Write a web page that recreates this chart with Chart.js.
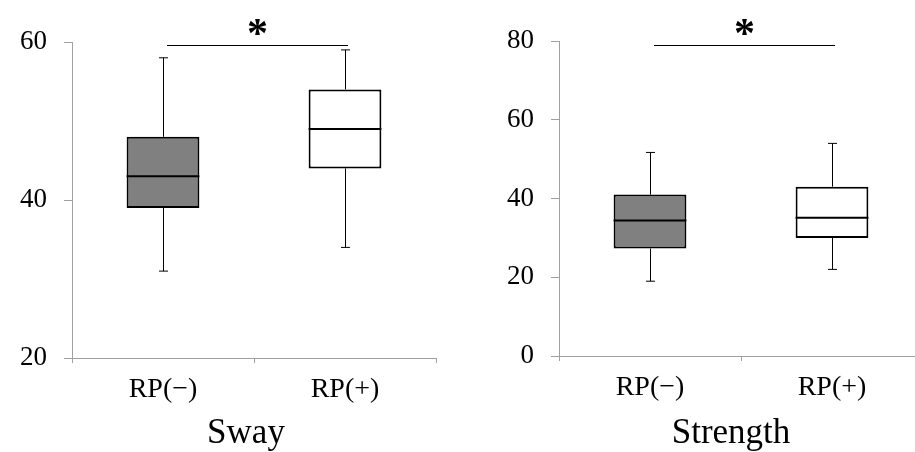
<!DOCTYPE html>
<html>
<head>
<meta charset="utf-8">
<script src="https://cdn.jsdelivr.net/npm/chart.js@4/dist/chart.umd.min.js"></script>
<style>
  html, body { margin: 0; padding: 0; background: #fff; overflow: hidden; }
  #wrap { position: relative; width: 915px; height: 452px; overflow: hidden; }
  #sway_chart { position: absolute; left: 0; top: 0; }
  #strength_chart { position: absolute; left: 460px; top: 0; }
</style>
</head>
<body>
<div id="wrap">
  <canvas id="sway_chart" width="460" height="452"></canvas>
  <canvas id="strength_chart" width="470" height="452"></canvas>
</div>
<script>
// groups on the x axis
var categories = ["RP(\u2212)", "RP(+)"];
var boxColors = ["#808080", "#ffffff"];

// Sway box plot values
var swayMin = [31, 34];
var swayQ1 = [39, 44];
var swayMedian = [43, 49];
var swayQ3 = [48, 54];
var swayMax = [58, 59];
var swaySig = 59.6;   // level of the * bracket

// Strength box plot values
var strengthMin = [19, 22];
var strengthQ1 = [27.3, 30];
var strengthMedian = [34.4, 35.1];
var strengthQ3 = [41, 43];
var strengthMax = [51.7, 54];
var strengthSig = 79;

var serif = "'Liberation Serif', 'Times New Roman', serif";
var axisGray = "#a0a0a0";

// whiskers, medians, significance bracket and axis name
var boxExtras = {
  id: "boxExtras",
  afterDatasetsDraw: function(chart) {
    var s = chart.options.plugins.boxExtras;
    var ctx = chart.ctx;
    var xs = chart.scales.x;
    var ys = chart.scales.y;
    var bars = chart.getDatasetMeta(0).data;
    ctx.save();
    ctx.strokeStyle = "#000";
    for (var i = 0; i < bars.length; i++) {
      var x = bars[i].x;
      var half = bars[i].width / 2;
      var yMin = ys.getPixelForValue(s.min[i]);
      var yQ1 = ys.getPixelForValue(s.q1[i]);
      var yQ3 = ys.getPixelForValue(s.q3[i]);
      var yMax = ys.getPixelForValue(s.max[i]);
      var yMed = ys.getPixelForValue(s.median[i]);
      ctx.lineWidth = 1;
      ctx.beginPath();
      ctx.moveTo(Math.round(x) + 0.5, yQ3); ctx.lineTo(Math.round(x) + 0.5, yMax);
      ctx.moveTo(Math.round(x) + 0.5, yQ1); ctx.lineTo(Math.round(x) + 0.5, yMin);
      ctx.moveTo(x - 4, yMax); ctx.lineTo(x + 5, yMax);
      ctx.moveTo(x - 4, yMin); ctx.lineTo(x + 5, yMin);
      ctx.stroke();
      ctx.lineWidth = 2;
      ctx.beginPath();
      ctx.moveTo(x - half, yMed); ctx.lineTo(x + half, yMed);
      ctx.stroke();
    }
    // significance bracket
    var ySig = Math.round(ys.getPixelForValue(s.sig)) + 0.5;
    var xa = xs.getPixelForValue(0) + 4;
    var xb = xs.getPixelForValue(1) + 3;
    ctx.lineWidth = 1;
    ctx.beginPath();
    ctx.moveTo(xa, ySig); ctx.lineTo(xb, ySig);
    ctx.stroke();
    ctx.fillStyle = "#000";
    ctx.textAlign = "center";
    ctx.textBaseline = "alphabetic";
    ctx.font = "bold 42px " + serif;
    ctx.fillText("*", (xa + xb) / 2, ySig + 1);
    // axis name under the group labels
    ctx.font = "35px " + serif;
    ctx.fillText(s.name, (xs.left + xs.right) / 2 + s.nameShift, chart.height - 9);
    ctx.restore();
  }
};

function makeBoxChart(id, name, mins, q1s, medians, q3s, maxs, sig, yMin, yMax, yWidth, pad, xHeight, nameShift) {
  var boxes = [];
  for (var i = 0; i < categories.length; i++) { boxes.push([q1s[i], q3s[i]]); }
  return new Chart(id, {
    type: "bar",
    data: {
      labels: categories,
      datasets: [{
        data: boxes,
        backgroundColor: boxColors,
        borderColor: "#000",
        borderWidth: 2,
        borderSkipped: false,
        barPercentage: 0.4,
        categoryPercentage: 1.0
      }]
    },
    options: {
      responsive: false,
      animation: false,
      layout: { padding: pad },
      plugins: {
        legend: { display: false },
        tooltip: { enabled: false },
        boxExtras: { name: name, min: mins, q1: q1s, median: medians, q3: q3s, max: maxs, sig: sig, nameShift: nameShift }
      },
      scales: {
        x: {
          afterFit: function(scale) { scale.height = xHeight; },
          border: { display: true, color: axisGray, width: 1 },
          grid: {
            drawOnChartArea: false,
            drawTicks: true,
            tickLength: 5,
            tickColor: function(c) { return c.index === 2 ? "rgba(0,0,0,0)" : axisGray; }
          },
          ticks: { color: "#000", font: { family: serif, size: 28 }, padding: 10, maxRotation: 0 }
        },
        y: {
          min: yMin,
          max: yMax,
          afterFit: function(scale) { scale.width = yWidth; },
          border: { display: true, color: axisGray, width: 1 },
          grid: { drawOnChartArea: false, drawTicks: true, tickLength: 8, tickColor: axisGray },
          ticks: { stepSize: 20, color: "#000", font: { family: serif, size: 27 }, padding: 17 }
        }
      }
    },
    plugins: [boxExtras]
  });
}

makeBoxChart("sway_chart", "Sway", swayMin, swayQ1, swayMedian, swayQ3, swayMax, swaySig,
  20, 60, 72, { left: 0, top: 42, right: 24, bottom: 0 }, 94, -8);

makeBoxChart("strength_chart", "Strength", strengthMin, strengthQ1, strengthMedian, strengthQ3, strengthMax, strengthSig,
  0, 80, 99, { left: 0, top: 41, right: 7, bottom: 0 }, 96, -10);
</script>
</body>
</html>
